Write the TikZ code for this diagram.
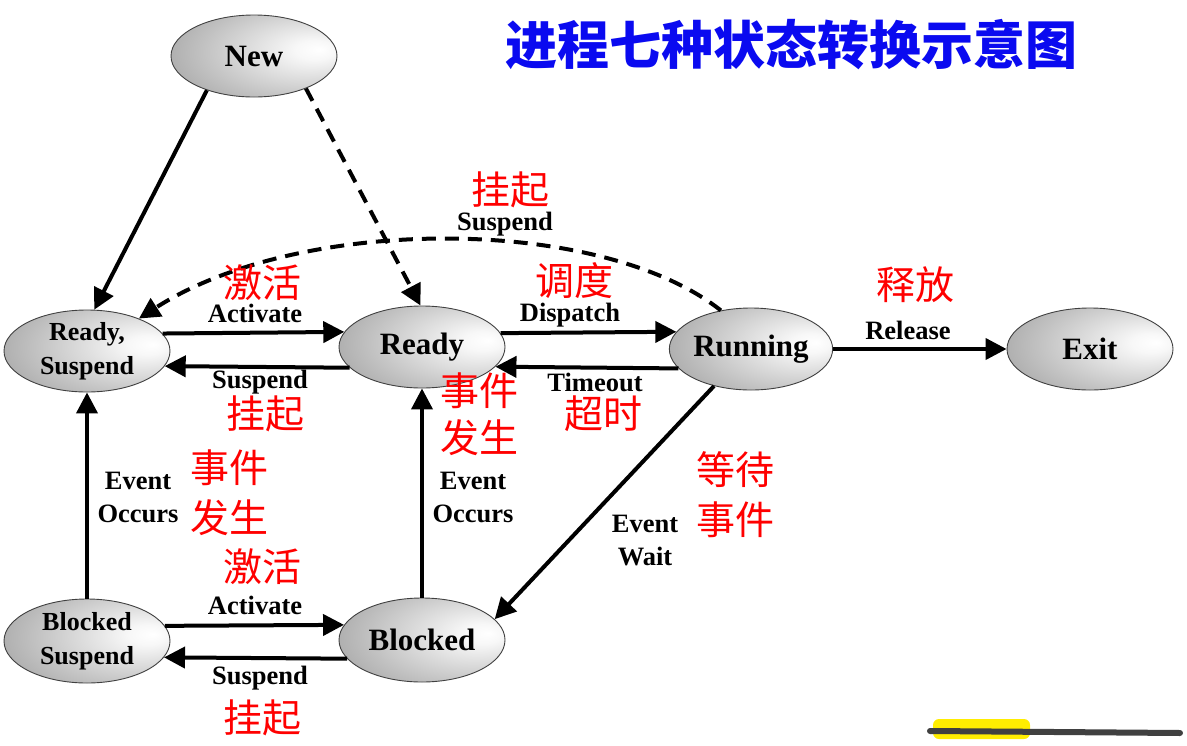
\documentclass[tikz,border=0pt]{standalone}
\usepackage{fontspec}
\setmainfont{Liberation Serif}
\newfontfamily\cjk{Noto Sans CJK SC}
\usetikzlibrary{shapes.geometric,arrows.meta}
\pgfdeclareradialshading{ballshade}{\pgfpoint{20bp}{4bp}}{color(0bp)=(white);color(6bp)=(white!97!black);color(28bp)=(black!24);color(52bp)=(black!46);color(75bp)=(black!60)}
\definecolor{titleblue}{RGB}{10,10,240}
\begin{document}
\begin{tikzpicture}[x=1pt,y=-1pt,
  stbox/.style={ellipse, draw=black!75, line width=0.9pt, shade, shading=ballshade, inner sep=0pt, align=center,
    minimum width=166pt, minimum height=82pt, font=\bfseries\fontsize{31}{33}\selectfont},
  smallst/.style={stbox, font=\bfseries\fontsize{26}{34}\selectfont},
  ar/.style={line width=4pt, -{Triangle[length=21pt,width=21pt]}},
  dar/.style={ar, dash pattern=on 14pt off 9pt},
  lab/.style={inner sep=0pt, align=center, font=\bfseries\fontsize{26.5}{33}\selectfont},
  zh/.style={inner sep=0pt, text=red, font=\cjk\fontsize{39}{50}\selectfont}]
\useasboundingbox (0,0) rectangle (1187,745);

% states
\node[stbox] (new) at (254,56) {New};
\node[smallst] (rs) at (87,351) {Ready,\\Suspend};
\node[stbox] (r) at (422,347) {Ready};
\node[stbox, minimum width=158pt] (run) at (751,349) {Running};
\node[stbox] (exit) at (1090,349) {Exit};
\node[smallst, minimum height=84pt] (bs) at (87,641) {Blocked\\Suspend};
\node[stbox, minimum height=84pt] (b) at (422,640) {Blocked};

% title
\node[inner sep=0pt, text=titleblue, font=\cjk\bfseries\fontsize{52}{56}\selectfont] (title) at (791,45) {进程七种状态转换示意图};

% transitions
\draw[ar] (new.216) -- (rs.80);
\draw[dar] (new.-32) -- (r.92);
\draw[dar] (run.128) .. controls (600,215) and (300,215) .. (rs.32);
\draw[ar] (rs.13.6) -- (r.169.7);
\draw[ar] (r.-164.3) -- (rs.-11.8);
\draw[ar] (r.10.3) -- (run.167.6);
\draw[ar] (run.-165.8) -- (r.-15.7);
\draw[ar] (run.east) -- (exit.west);
\draw[ar] (bs.north) -- (rs.south);
\draw[ar] (b.north) -- (r.south);
\draw[ar] (bs.11.8) -- (b.169.1);
\draw[ar] (b.-166.5) -- (bs.-12.6);
\draw[ar] (run.225) -- (b.16);

% labels
\node[zh] (l1) at (510,190) {挂起};
\node[lab] (l2) at (505,224) {Suspend};
\node[zh] (l3) at (262,283) {激活};
\node[lab] (l4) at (255,313) {Activate};
\node[zh] (l5) at (574,281) {调度};
\node[lab] (l6) at (570,315) {Dispatch};
\node[zh] (l7) at (915,285) {释放};
\node[lab] (l8) at (908,330) {Release};
\node[lab] (l9) at (260,382) {Suspend};
\node[zh] (l10) at (265,414) {挂起};
\node[zh] (l11) at (479,391) {事件};
\node[zh] (l12) at (479,438) {发生};
\node[lab] (l13) at (595,382) {Timeout};
\node[zh] (l14) at (603,414) {超时};
\node[lab] (l15) at (138,497) {Event\\Occurs};
\node[zh] (l16) at (229,468) {事件};
\node[zh] (l17) at (229,518) {发生};
\node[lab] (l18) at (473,497) {Event\\Occurs};
\node[zh] (l19) at (735,470) {等待};
\node[zh] (l20) at (735,520) {事件};
\node[lab] (l21) at (645,541) {Event\\Wait};
\node[zh] (l22) at (262,567) {激活};
\node[lab] (l23) at (255,605) {Activate};
\node[lab] (l24) at (260,678) {Suspend};
\node[zh] (l25) at (262,718) {挂起};

% scribble bottom right
\fill[yellow!95!orange, rounded corners=6pt] (933,719) rectangle (1030,739);
\draw[black!75, line width=6pt, line cap=round] (930,731) -- (1180,733);
\end{tikzpicture}
\end{document}
